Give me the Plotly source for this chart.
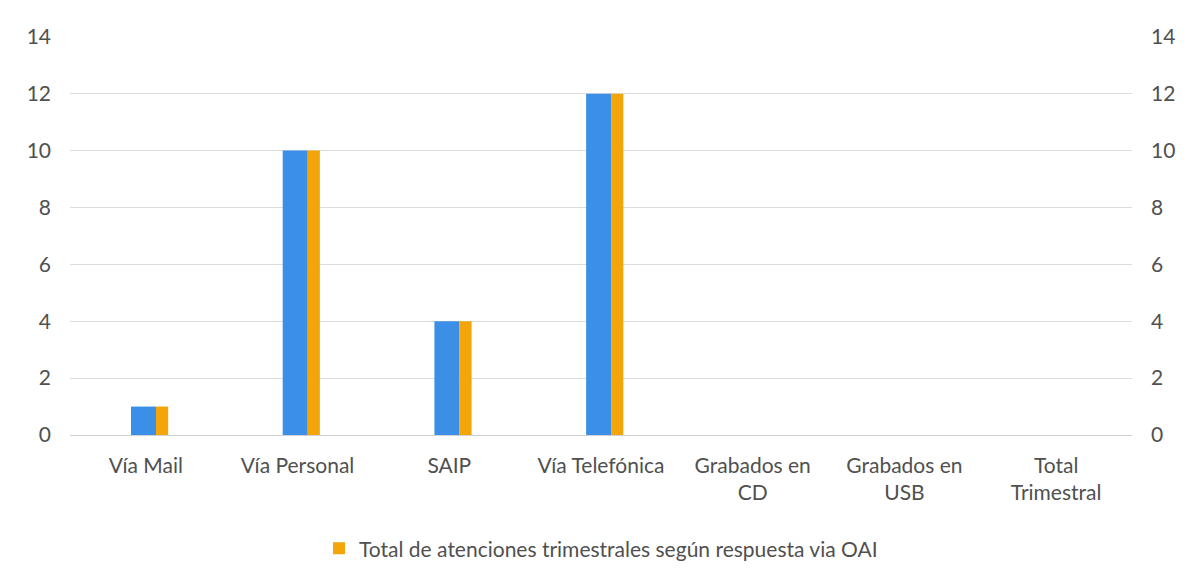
import plotly.graph_objects as go

categories = ["Vía Mail", "Vía Personal", "SAIP", "Vía Telefónica",
              "Grabados en<br>CD", "Grabados en<br>USB", "Total<br>Trimestral"]
values_primary = [1, 10, 4, 12, 0, 0, 0]
values_secondary = [1, 10, 4, 12, 0, 0, 0]
series_name = "Total de atenciones trimestrales según respuesta via OAI"
y_ticks = [0, 2, 4, 6, 8, 10, 12, 14]

FONT = "Lato, 'Open Sans', sans-serif"
BLUE = "#3b8fe6"
ORANGE = "#f3a50a"
TXT = "#505050"
FS = 21

fig = go.Figure()
fig.add_trace(go.Bar(
    x=categories, y=values_primary, name=series_name,
    marker=dict(color=BLUE, line=dict(width=0)),
    width=0.165, offset=-0.098, showlegend=False, yaxis="y",
))
fig.add_trace(go.Bar(
    x=categories, y=values_secondary, name=series_name,
    marker=dict(color=ORANGE, line=dict(width=0)),
    width=0.08, offset=0.067, showlegend=True, yaxis="y2",
))

fig.update_layout(
    width=1188, height=586,
    margin=dict(l=70, r=56, t=36, b=151, autoexpand=False),
    paper_bgcolor="white", plot_bgcolor="white",
    barmode="overlay",
    font=dict(family=FONT, size=FS, color=TXT),
    xaxis=dict(showgrid=False, showline=False, ticks="",
               tickfont=dict(size=FS, color=TXT), ticklabelstandoff=16),
    yaxis=dict(range=[0, 14.03], tickvals=y_ticks, showgrid=True,
               gridcolor="#dcdcdc", gridwidth=1, zeroline=True,
               zerolinecolor="#d0d0d0", zerolinewidth=1,
               showline=False, ticks="", ticklabelstandoff=18,
               tickfont=dict(size=FS, color=TXT)),
    yaxis2=dict(range=[0, 14.03], tickvals=y_ticks, overlaying="y", side="right",
                showgrid=False, zeroline=False, showline=False, ticks="",
                ticklabelstandoff=18,
                tickfont=dict(size=FS, color=TXT)),
    legend=dict(orientation="h", x=0.5, xanchor="center", y=-0.285,
                yanchor="middle", font=dict(size=FS, color=TXT),
                itemwidth=30),
)

fig.write_html("out.html")
